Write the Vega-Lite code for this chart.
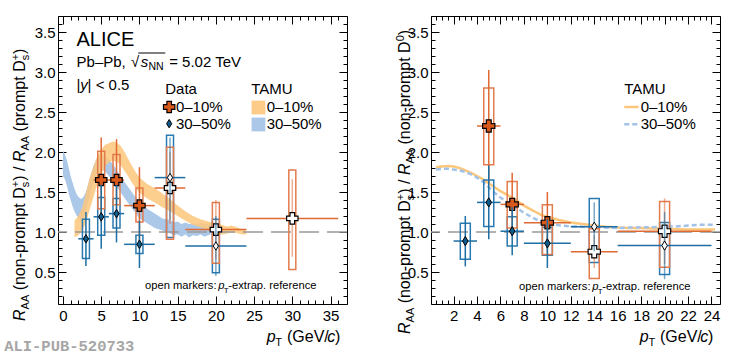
{
"$schema": "https://vega.github.io/schema/vega-lite/v6.json",
"padding": {"left": 4, "top": 15, "right": 5, "bottom": 0},
"background": "white",
"spacing": 84,
"bounds": "flush",
"config": {
  "view": {"stroke": null},
  "font": "Liberation Sans",
  "axis": {"domainColor": "black", "domainWidth": 1, "tickColor": "black", "tickWidth": 1, "labelFont": "Liberation Sans", "labelFontSize": 15, "labelColor": "black", "grid": false, "labelOverlap": false, "labelFlush": false, "labelBound": false, "title": null},
  "text": {"font": "Liberation Sans", "fill": "black"}
},
"datasets": {
  "one": [{}],
  "pts": [
    {"p":"L","c":"0–10%","pt":5,"r":1.65,"xl":4,"xh":6,"sl":1.12,"sh":2.18,"bl":1.29,"bh":2.01,"o":false},
    {"p":"L","c":"0–10%","pt":7,"r":1.65,"xl":6,"xh":8,"sl":1.16,"sh":2.16,"bl":1.34,"bh":1.97,"o":false},
    {"p":"L","c":"0–10%","pt":10,"r":1.33,"xl":8,"xh":12,"sl":0.86,"sh":1.81,"bl":1.125,"bh":1.55,"o":false},
    {"p":"L","c":"0–10%","pt":14,"r":1.55,"xl":12,"xh":16,"sl":1.10,"sh":2.0,"bl":0.91,"bh":2.06,"o":true},
    {"p":"L","c":"0–10%","pt":20,"r":1.03,"xl":16,"xh":24,"sl":0.66,"sh":1.40,"bl":0.61,"bh":1.37,"o":true},
    {"p":"L","c":"0–10%","pt":30,"r":1.17,"xl":24,"xh":36,"sl":0.69,"sh":1.66,"bl":0.53,"bh":1.775,"o":true},
    {"p":"L","c":"30–50%","pt":3,"r":0.915,"xl":2,"xh":4,"sl":0.575,"sh":1.25,"bl":0.67,"bh":1.16,"o":false},
    {"p":"L","c":"30–50%","pt":5,"r":1.19,"xl":4,"xh":6,"sl":0.79,"sh":1.59,"bl":0.96,"bh":1.43,"o":false},
    {"p":"L","c":"30–50%","pt":7,"r":1.23,"xl":6,"xh":8,"sl":0.87,"sh":1.59,"bl":1.05,"bh":1.42,"o":false},
    {"p":"L","c":"30–50%","pt":10,"r":0.846,"xl":8,"xh":12,"sl":0.55,"sh":1.14,"bl":0.73,"bh":0.96,"o":false},
    {"p":"L","c":"30–50%","pt":14,"r":1.68,"xl":12,"xh":16,"sl":1.15,"sh":2.18,"bl":0.93,"bh":2.21,"o":true},
    {"p":"L","c":"30–50%","pt":20,"r":0.825,"xl":16,"xh":24,"sl":0.45,"sh":1.20,"bl":0.49,"bh":1.16,"o":true},
    {"p":"R","c":"0–10%","pt":5,"r":2.325,"xl":4,"xh":6,"sl":1.62,"sh":3.025,"bl":1.84,"bh":2.80,"o":false},
    {"p":"R","c":"0–10%","pt":7,"r":1.345,"xl":6,"xh":8,"sl":0.95,"sh":1.74,"bl":1.05,"bh":1.63,"o":false},
    {"p":"R","c":"0–10%","pt":10,"r":1.116,"xl":8,"xh":12,"sl":0.73,"sh":1.50,"bl":0.72,"bh":1.34,"o":false},
    {"p":"R","c":"0–10%","pt":14,"r":0.754,"xl":12,"xh":16,"sl":0.55,"sh":0.96,"bl":0.42,"bh":1.04,"o":true},
    {"p":"R","c":"0–10%","pt":20,"r":1.01,"xl":16,"xh":24,"sl":0.60,"sh":1.42,"bl":0.56,"bh":1.38,"o":true},
    {"p":"R","c":"30–50%","pt":3,"r":0.887,"xl":2,"xh":4,"sl":0.57,"sh":1.20,"bl":0.66,"bh":1.11,"o":false},
    {"p":"R","c":"30–50%","pt":5,"r":1.37,"xl":4,"xh":6,"sl":0.91,"sh":1.83,"bl":1.07,"bh":1.65,"o":false},
    {"p":"R","c":"30–50%","pt":7,"r":1.01,"xl":6,"xh":8,"sl":0.71,"sh":1.31,"bl":0.825,"bh":1.19,"o":false},
    {"p":"R","c":"30–50%","pt":10,"r":0.858,"xl":8,"xh":12,"sl":0.55,"sh":1.16,"bl":0.71,"bh":1.06,"o":false},
    {"p":"R","c":"30–50%","pt":14,"r":1.066,"xl":12,"xh":16,"sl":0.76,"sh":1.37,"bl":0.62,"bh":1.42,"o":true},
    {"p":"R","c":"30–50%","pt":20,"r":0.83,"xl":16,"xh":24,"sl":0.41,"sh":1.25,"bl":0.47,"bh":1.12,"o":true}
  ],
  "bands": [
    {"c":"0–10%","pt":1.5,"lo":0.93,"hi":1.14},{"c":"0–10%","pt":2.0,"lo":0.96,"hi":1.20},{"c":"0–10%","pt":2.5,"lo":1.01,"hi":1.30},
    {"c":"0–10%","pt":3.0,"lo":1.12,"hi":1.48},{"c":"0–10%","pt":3.5,"lo":1.28,"hi":1.68},{"c":"0–10%","pt":4.0,"lo":1.44,"hi":1.82},
    {"c":"0–10%","pt":4.5,"lo":1.60,"hi":1.95},{"c":"0–10%","pt":5.0,"lo":1.72,"hi":2.03},{"c":"0–10%","pt":5.5,"lo":1.82,"hi":2.09},
    {"c":"0–10%","pt":6.0,"lo":1.87,"hi":2.11},{"c":"0–10%","pt":6.5,"lo":1.89,"hi":2.13},{"c":"0–10%","pt":7.0,"lo":1.88,"hi":2.12},
    {"c":"0–10%","pt":7.5,"lo":1.84,"hi":2.08},{"c":"0–10%","pt":8.0,"lo":1.77,"hi":2.01},{"c":"0–10%","pt":8.5,"lo":1.70,"hi":1.92},
    {"c":"0–10%","pt":9.0,"lo":1.62,"hi":1.83},{"c":"0–10%","pt":9.5,"lo":1.55,"hi":1.75},{"c":"0–10%","pt":10,"lo":1.49,"hi":1.68},
    {"c":"0–10%","pt":11,"lo":1.42,"hi":1.60},{"c":"0–10%","pt":12,"lo":1.37,"hi":1.55},{"c":"0–10%","pt":13,"lo":1.31,"hi":1.48},
    {"c":"0–10%","pt":14,"lo":1.26,"hi":1.41},{"c":"0–10%","pt":15,"lo":1.20,"hi":1.33},{"c":"0–10%","pt":16,"lo":1.14,"hi":1.26},
    {"c":"0–10%","pt":17,"lo":1.09,"hi":1.20},{"c":"0–10%","pt":18,"lo":1.06,"hi":1.16},{"c":"0–10%","pt":19,"lo":1.02,"hi":1.13},
    {"c":"0–10%","pt":20,"lo":0.99,"hi":1.11},{"c":"0–10%","pt":20.5,"lo":0.97,"hi":1.10},{"c":"0–10%","pt":21,"lo":0.97,"hi":1.08},
    {"c":"0–10%","pt":21.5,"lo":0.98,"hi":1.07},{"c":"0–10%","pt":22,"lo":0.99,"hi":1.08},{"c":"0–10%","pt":22.5,"lo":0.99,"hi":1.07},
    {"c":"0–10%","pt":23,"lo":0.98,"hi":1.05},{"c":"0–10%","pt":23.5,"lo":0.97,"hi":1.03},{"c":"0–10%","pt":24,"lo":0.97,"hi":1.02},
    {"c":"30–50%","pt":0.0,"lo":1.70,"hi":2.02},{"c":"30–50%","pt":0.25,"lo":1.66,"hi":1.97},{"c":"30–50%","pt":0.5,"lo":1.58,"hi":1.90},
    {"c":"30–50%","pt":0.75,"lo":1.48,"hi":1.80},{"c":"30–50%","pt":1.0,"lo":1.40,"hi":1.70},{"c":"30–50%","pt":1.25,"lo":1.32,"hi":1.62},
    {"c":"30–50%","pt":1.5,"lo":1.26,"hi":1.54},{"c":"30–50%","pt":1.75,"lo":1.21,"hi":1.48},{"c":"30–50%","pt":2.0,"lo":1.18,"hi":1.44},
    {"c":"30–50%","pt":2.25,"lo":1.16,"hi":1.42},{"c":"30–50%","pt":2.5,"lo":1.16,"hi":1.42},{"c":"30–50%","pt":2.75,"lo":1.19,"hi":1.45},
    {"c":"30–50%","pt":3.0,"lo":1.26,"hi":1.50},{"c":"30–50%","pt":3.5,"lo":1.45,"hi":1.67},{"c":"30–50%","pt":4.0,"lo":1.63,"hi":1.83},
    {"c":"30–50%","pt":4.5,"lo":1.74,"hi":1.93},{"c":"30–50%","pt":5.0,"lo":1.78,"hi":1.97},{"c":"30–50%","pt":5.5,"lo":1.76,"hi":1.95},
    {"c":"30–50%","pt":6.0,"lo":1.70,"hi":1.91},{"c":"30–50%","pt":6.5,"lo":1.63,"hi":1.85},{"c":"30–50%","pt":7.0,"lo":1.57,"hi":1.78},
    {"c":"30–50%","pt":7.5,"lo":1.50,"hi":1.70},{"c":"30–50%","pt":8.0,"lo":1.43,"hi":1.63},{"c":"30–50%","pt":9.0,"lo":1.30,"hi":1.50},
    {"c":"30–50%","pt":10,"lo":1.17,"hi":1.37},{"c":"30–50%","pt":11,"lo":1.11,"hi":1.29},{"c":"30–50%","pt":12,"lo":1.05,"hi":1.23},
    {"c":"30–50%","pt":13,"lo":1.02,"hi":1.17},{"c":"30–50%","pt":14,"lo":0.98,"hi":1.15},{"c":"30–50%","pt":14.5,"lo":0.96,"hi":1.12},
    {"c":"30–50%","pt":15,"lo":0.97,"hi":1.13},{"c":"30–50%","pt":15.5,"lo":0.94,"hi":1.10},{"c":"30–50%","pt":16,"lo":0.97,"hi":1.12},
    {"c":"30–50%","pt":16.5,"lo":0.93,"hi":1.10},{"c":"30–50%","pt":17,"lo":0.96,"hi":1.11},{"c":"30–50%","pt":17.5,"lo":0.95,"hi":1.09},
    {"c":"30–50%","pt":18,"lo":0.97,"hi":1.12},{"c":"30–50%","pt":18.5,"lo":0.94,"hi":1.10},{"c":"30–50%","pt":19,"lo":0.96,"hi":1.11},
    {"c":"30–50%","pt":19.3,"lo":0.97,"hi":1.10}
  ],
  "lines": [
    {"c":"0–10%","pt":0.5,"r":1.81},{"c":"0–10%","pt":1.0,"r":1.82},{"c":"0–10%","pt":1.5,"r":1.825},{"c":"0–10%","pt":2.0,"r":1.82},
    {"c":"0–10%","pt":2.5,"r":1.80},{"c":"0–10%","pt":3.0,"r":1.77},{"c":"0–10%","pt":3.5,"r":1.74},{"c":"0–10%","pt":4.0,"r":1.70},
    {"c":"0–10%","pt":4.5,"r":1.66},{"c":"0–10%","pt":5.0,"r":1.61},{"c":"0–10%","pt":5.5,"r":1.56},{"c":"0–10%","pt":6.0,"r":1.51},
    {"c":"0–10%","pt":6.5,"r":1.47},{"c":"0–10%","pt":7.0,"r":1.43},{"c":"0–10%","pt":7.5,"r":1.38},{"c":"0–10%","pt":8.0,"r":1.33},
    {"c":"0–10%","pt":8.5,"r":1.29},{"c":"0–10%","pt":9.0,"r":1.25},{"c":"0–10%","pt":9.5,"r":1.21},{"c":"0–10%","pt":10,"r":1.19},
    {"c":"0–10%","pt":11,"r":1.15},{"c":"0–10%","pt":12,"r":1.12},{"c":"0–10%","pt":13,"r":1.10},{"c":"0–10%","pt":14,"r":1.08},
    {"c":"0–10%","pt":15,"r":1.065},{"c":"0–10%","pt":16,"r":1.055},{"c":"0–10%","pt":17,"r":1.05},{"c":"0–10%","pt":18,"r":1.05},
    {"c":"0–10%","pt":19,"r":1.045},{"c":"0–10%","pt":20,"r":1.04},{"c":"0–10%","pt":21,"r":1.035},{"c":"0–10%","pt":22,"r":1.03},
    {"c":"0–10%","pt":23,"r":1.03},{"c":"0–10%","pt":24,"r":1.03},{"c":"0–10%","pt":24.3,"r":1.03},
    {"c":"30–50%","pt":0.5,"r":1.78},{"c":"30–50%","pt":1.0,"r":1.79},{"c":"30–50%","pt":1.5,"r":1.79},{"c":"30–50%","pt":2.0,"r":1.78},
    {"c":"30–50%","pt":2.5,"r":1.77},{"c":"30–50%","pt":3.0,"r":1.75},{"c":"30–50%","pt":3.5,"r":1.72},{"c":"30–50%","pt":4.0,"r":1.68},
    {"c":"30–50%","pt":4.5,"r":1.63},{"c":"30–50%","pt":5.0,"r":1.56},{"c":"30–50%","pt":5.5,"r":1.49},{"c":"30–50%","pt":6.0,"r":1.43},
    {"c":"30–50%","pt":6.5,"r":1.38},{"c":"30–50%","pt":7.0,"r":1.34},{"c":"30–50%","pt":7.5,"r":1.29},{"c":"30–50%","pt":8.0,"r":1.24},
    {"c":"30–50%","pt":8.5,"r":1.20},{"c":"30–50%","pt":9.0,"r":1.16},{"c":"30–50%","pt":9.5,"r":1.13},{"c":"30–50%","pt":10,"r":1.11},
    {"c":"30–50%","pt":11,"r":1.085},{"c":"30–50%","pt":12,"r":1.07},{"c":"30–50%","pt":13,"r":1.065},{"c":"30–50%","pt":14,"r":1.06},
    {"c":"30–50%","pt":15,"r":1.055},{"c":"30–50%","pt":16,"r":1.05},{"c":"30–50%","pt":17,"r":1.055},{"c":"30–50%","pt":18,"r":1.06},
    {"c":"30–50%","pt":19,"r":1.06},{"c":"30–50%","pt":20,"r":1.065},{"c":"30–50%","pt":21,"r":1.07},{"c":"30–50%","pt":22,"r":1.08},
    {"c":"30–50%","pt":23,"r":1.09},{"c":"30–50%","pt":24,"r":1.09},{"c":"30–50%","pt":24.3,"r":1.08}
  ]
},
"hconcat": [
{
  "width": 289, "height": 288,
  "resolve": {"axis": {"x": "independent", "y": "independent"}},
  "layer": [
    {"data": {"name": "bands"}, "transform": [{"filter": "datum.c == '30–50%'"}],
     "mark": {"type": "area", "color": "#a3c2e7", "opacity": 0.9},
     "encoding": {"x": {"field": "pt", "type": "quantitative", "scale": {"domain": [0, 36.5], "nice": false, "zero": false}, "axis": null},
                  "y": {"field": "lo", "type": "quantitative", "scale": {"domain": [0.1, 3.7], "nice": false, "zero": false}, "axis": null},
                  "y2": {"field": "hi"}}},
    {"data": {"name": "bands"}, "transform": [{"filter": "datum.c == '0–10%'"}],
     "mark": {"type": "area", "color": "#fdc77b", "opacity": 0.85},
     "encoding": {"x": {"field": "pt", "type": "quantitative", "scale": {"domain": [0, 36.5], "nice": false, "zero": false}, "axis": null},
                  "y": {"field": "lo", "type": "quantitative", "scale": {"domain": [0.1, 3.7], "nice": false, "zero": false}, "axis": null},
                  "y2": {"field": "hi"}}},
    {"data": {"name": "one"}, "mark": {"type": "rule", "color": "#999999", "strokeWidth": 1.5, "strokeDash": [20, 8]},
     "encoding": {"y": {"datum": 1, "type": "quantitative", "scale": {"domain": [0.1, 3.7], "nice": false, "zero": false}, "axis": null}}},
    {"data": {"name": "pts"}, "transform": [{"filter": "datum.p == 'L' && datum.c == '30–50%'"}],
     "mark": {"type": "bar", "size": 7, "filled": false, "color": "#2a79b0", "strokeWidth": 1.5},
     "encoding": {"x": {"field": "pt", "type": "quantitative", "scale": {"domain": [0, 36.5], "nice": false, "zero": false}, "axis": null},
                  "y": {"field": "bl", "type": "quantitative", "scale": {"domain": [0.1, 3.7], "nice": false, "zero": false}, "axis": null},
                  "y2": {"field": "bh"}}},
    {"data": {"name": "pts"}, "transform": [{"filter": "datum.p == 'L' && datum.c == '0–10%'"}],
     "mark": {"type": "bar", "size": 7, "filled": false, "color": "#e27c4e", "strokeWidth": 1.5},
     "encoding": {"x": {"field": "pt", "type": "quantitative", "scale": {"domain": [0, 36.5], "nice": false, "zero": false}, "axis": null},
                  "y": {"field": "bl", "type": "quantitative", "scale": {"domain": [0.1, 3.7], "nice": false, "zero": false}, "axis": null},
                  "y2": {"field": "bh"}}},
    {"data": {"name": "pts"}, "transform": [{"filter": "datum.p == 'L' && datum.c == '0–10%'"}],
     "mark": {"type": "rule", "color": "#e06a33", "strokeWidth": 1.5},
     "encoding": {"x": {"field": "pt", "type": "quantitative", "scale": {"domain": [0, 36.5], "nice": false, "zero": false}, "axis": null},
                  "y": {"field": "sl", "type": "quantitative", "scale": {"domain": [0.1, 3.7], "nice": false, "zero": false}, "axis": null},
                  "y2": {"field": "sh"},
                  "strokeOpacity": {"condition": {"test": "datum.o", "value": 0.55}, "value": 1}}},
    {"data": {"name": "pts"}, "transform": [{"filter": "datum.p == 'L' && datum.c == '0–10%'"}],
     "mark": {"type": "rule", "color": "#e06a33", "strokeWidth": 1.5},
     "encoding": {"x": {"field": "xl", "type": "quantitative", "scale": {"domain": [0, 36.5], "nice": false, "zero": false}, "axis": null},
                  "x2": {"field": "xh"},
                  "y": {"field": "r", "type": "quantitative", "scale": {"domain": [0.1, 3.7], "nice": false, "zero": false}, "axis": null}}},
    {"data": {"name": "pts"}, "transform": [{"filter": "datum.p == 'L' && datum.c == '0–10%'"}],
     "mark": {"type": "point", "shape": "cross", "size": 130, "filled": true, "stroke": "black", "strokeWidth": 1.2, "opacity": 1},
     "encoding": {"x": {"field": "pt", "type": "quantitative", "scale": {"domain": [0, 36.5], "nice": false, "zero": false},
                        "axis": {"orient": "bottom", "values": [0,1,2,3,4,5,6,7,8,9,10,11,12,13,14,15,16,17,18,19,20,21,22,23,24,25,26,27,28,29,30,31,32,33,34,35,36],
                                 "tickSize": {"condition": {"test": "datum.value % 5 === 0", "value": -8}, "value": -4},
                                 "labelFontSize": {"condition": {"test": "datum.value % 5 === 0", "value": 15}, "value": 0},
                                 "labelExpr": "datum.value % 5 === 0 ? format(datum.value, 'd') : ''", "labelPadding": 12}},
                  "y": {"field": "r", "type": "quantitative", "scale": {"domain": [0.1, 3.7], "nice": false, "zero": false},
                        "axis": {"orient": "left", "values": [0.1,0.2,0.3,0.4,0.5,0.6,0.7,0.8,0.9,1.0,1.1,1.2,1.3,1.4,1.5,1.6,1.7,1.8,1.9,2.0,2.1,2.2,2.3,2.4,2.5,2.6,2.7,2.8,2.9,3.0,3.1,3.2,3.3,3.4,3.5,3.6,3.7],
                                 "tickSize": {"condition": {"test": "abs(datum.value*2 - round(datum.value*2)) < 0.001", "value": -8}, "value": -4},
                                 "labelFontSize": {"condition": {"test": "abs(datum.value*2 - round(datum.value*2)) < 0.001", "value": 15}, "value": 0},
                                 "labelExpr": "abs(datum.value*2 - round(datum.value*2)) < 0.001 ? format(datum.value, '.1f') : ''", "labelPadding": 11}},
                  "fill": {"condition": {"test": "datum.o", "value": "white"}, "value": "#d9581c"}}},
    {"data": {"name": "pts"}, "transform": [{"filter": "datum.p == 'L' && datum.c == '30–50%'"}],
     "mark": {"type": "rule", "color": "#1c6ea4", "strokeWidth": 1.5},
     "encoding": {"x": {"field": "pt", "type": "quantitative", "scale": {"domain": [0, 36.5], "nice": false, "zero": false}, "axis": null},
                  "y": {"field": "sl", "type": "quantitative", "scale": {"domain": [0.1, 3.7], "nice": false, "zero": false}, "axis": null},
                  "y2": {"field": "sh"},
                  "strokeOpacity": {"condition": {"test": "datum.o", "value": 0.6}, "value": 1}}},
    {"data": {"name": "pts"}, "transform": [{"filter": "datum.p == 'L' && datum.c == '30–50%'"}],
     "mark": {"type": "rule", "color": "#1c6ea4", "strokeWidth": 1.5},
     "encoding": {"x": {"field": "xl", "type": "quantitative", "scale": {"domain": [0, 36.5], "nice": false, "zero": false}, "axis": null},
                  "x2": {"field": "xh"},
                  "y": {"field": "r", "type": "quantitative", "scale": {"domain": [0.1, 3.7], "nice": false, "zero": false}, "axis": null}}},
    {"data": {"name": "pts"}, "transform": [{"filter": "datum.p == 'L' && datum.c == '30–50%'"}],
     "mark": {"type": "point", "shape": "M0,-1L0.62,0L0,1L-0.62,0Z", "size": 70, "filled": true, "stroke": "black", "strokeWidth": 1, "opacity": 1},
     "encoding": {"x": {"field": "pt", "type": "quantitative", "scale": {"domain": [0, 36.5], "nice": false, "zero": false}, "axis": null},
                  "y": {"field": "r", "type": "quantitative", "scale": {"domain": [0.1, 3.7], "nice": false, "zero": false}, "axis": null},
                  "fill": {"condition": {"test": "datum.o", "value": "white"}, "value": "#0e5a8a"}}},
    {"data": {"name": "pts"}, "transform": [{"filter": "datum.p == 'L'"}],
     "mark": {"type": "point", "opacity": 0},
     "encoding": {"x": {"field": "pt", "type": "quantitative", "scale": {"domain": [0, 36.5], "nice": false, "zero": false},
                        "axis": {"orient": "top", "labels": false, "values": [0,1,2,3,4,5,6,7,8,9,10,11,12,13,14,15,16,17,18,19,20,21,22,23,24,25,26,27,28,29,30,31,32,33,34,35,36],
                                 "tickSize": {"condition": {"test": "datum.value % 5 === 0", "value": -8}, "value": -4}}},
                  "y": {"field": "r", "type": "quantitative", "scale": {"domain": [0.1, 3.7], "nice": false, "zero": false},
                        "axis": {"orient": "right", "labels": false, "values": [0.1,0.2,0.3,0.4,0.5,0.6,0.7,0.8,0.9,1.0,1.1,1.2,1.3,1.4,1.5,1.6,1.7,1.8,1.9,2.0,2.1,2.2,2.3,2.4,2.5,2.6,2.7,2.8,2.9,3.0,3.1,3.2,3.3,3.4,3.5,3.6,3.7],
                                 "tickSize": {"condition": {"test": "abs(datum.value*2 - round(datum.value*2)) < 0.001", "value": -8}, "value": -4}}}}},
    {"data": {"name": "one"}, "mark": {"type": "text", "text": "ALICE", "align": "left", "baseline": "alphabetic", "fontSize": 20},
     "encoding": {"x": {"datum": 1.77, "type": "quantitative", "scale": {"domain": [0, 36.5], "nice": false, "zero": false}, "axis": null}, "y": {"datum": 3.325, "type": "quantitative", "scale": {"domain": [0.1, 3.7], "nice": false, "zero": false}, "axis": null}}},
    {"data": {"name": "one"}, "mark": {"type": "text", "text": "Pb–Pb,", "align": "left", "baseline": "alphabetic", "fontSize": 15},
     "encoding": {"x": {"datum": 1.77, "type": "quantitative", "scale": {"domain": [0, 36.5], "nice": false, "zero": false}, "axis": null}, "y": {"datum": 3.066, "type": "quantitative", "scale": {"domain": [0.1, 3.7], "nice": false, "zero": false}, "axis": null}}},
    {"data": {"name": "one"}, "mark": {"type": "text", "text": "√", "align": "left", "baseline": "alphabetic", "fontSize": 15},
     "encoding": {"x": {"datum": 8.90, "type": "quantitative", "scale": {"domain": [0, 36.5], "nice": false, "zero": false}, "axis": null}, "y": {"datum": 3.066, "type": "quantitative", "scale": {"domain": [0.1, 3.7], "nice": false, "zero": false}, "axis": null}}},
    {"data": {"name": "one"}, "mark": {"type": "rule", "color": "black", "strokeWidth": 1},
     "encoding": {"x": {"datum": 9.85, "type": "quantitative", "scale": {"domain": [0, 36.5], "nice": false, "zero": false}, "axis": null}, "x2": {"datum": 13.38}, "y": {"datum": 3.2375, "type": "quantitative", "scale": {"domain": [0.1, 3.7], "nice": false, "zero": false}, "axis": null}}},
    {"data": {"name": "one"}, "mark": {"type": "text", "text": "s", "align": "left", "baseline": "alphabetic", "fontSize": 15, "fontStyle": "italic"},
     "encoding": {"x": {"datum": 10.16, "type": "quantitative", "scale": {"domain": [0, 36.5], "nice": false, "zero": false}, "axis": null}, "y": {"datum": 3.066, "type": "quantitative", "scale": {"domain": [0.1, 3.7], "nice": false, "zero": false}, "axis": null}}},
    {"data": {"name": "one"}, "mark": {"type": "text", "text": "NN", "align": "left", "baseline": "alphabetic", "fontSize": 10.5},
     "encoding": {"x": {"datum": 11.17, "type": "quantitative", "scale": {"domain": [0, 36.5], "nice": false, "zero": false}, "axis": null}, "y": {"datum": 3.019, "type": "quantitative", "scale": {"domain": [0.1, 3.7], "nice": false, "zero": false}, "axis": null}}},
    {"data": {"name": "one"}, "mark": {"type": "text", "text": "= 5.02 TeV", "align": "left", "baseline": "alphabetic", "fontSize": 15},
     "encoding": {"x": {"datum": 13.89, "type": "quantitative", "scale": {"domain": [0, 36.5], "nice": false, "zero": false}, "axis": null}, "y": {"datum": 3.066, "type": "quantitative", "scale": {"domain": [0.1, 3.7], "nice": false, "zero": false}, "axis": null}}},
    {"data": {"name": "one"}, "mark": {"type": "text", "text": "|", "align": "left", "baseline": "alphabetic", "fontSize": 15},
     "encoding": {"x": {"datum": 1.77, "type": "quantitative", "scale": {"domain": [0, 36.5], "nice": false, "zero": false}, "axis": null}, "y": {"datum": 2.771, "type": "quantitative", "scale": {"domain": [0.1, 3.7], "nice": false, "zero": false}, "axis": null}}},
    {"data": {"name": "one"}, "mark": {"type": "text", "text": "y", "align": "left", "baseline": "alphabetic", "fontSize": 15, "fontStyle": "italic"},
     "encoding": {"x": {"datum": 2.273, "type": "quantitative", "scale": {"domain": [0, 36.5], "nice": false, "zero": false}, "axis": null}, "y": {"datum": 2.771, "type": "quantitative", "scale": {"domain": [0.1, 3.7], "nice": false, "zero": false}, "axis": null}}},
    {"data": {"name": "one"}, "mark": {"type": "text", "text": "| < 0.5", "align": "left", "baseline": "alphabetic", "fontSize": 15},
     "encoding": {"x": {"datum": 3.22, "type": "quantitative", "scale": {"domain": [0, 36.5], "nice": false, "zero": false}, "axis": null}, "y": {"datum": 2.771, "type": "quantitative", "scale": {"domain": [0.1, 3.7], "nice": false, "zero": false}, "axis": null}}},
    {"data": {"name": "one"}, "mark": {"type": "text", "text": "Data", "align": "left", "baseline": "alphabetic", "fontSize": 15},
     "encoding": {"x": {"datum": 13.38, "type": "quantitative", "scale": {"domain": [0, 36.5], "nice": false, "zero": false}, "axis": null}, "y": {"datum": 2.725, "type": "quantitative", "scale": {"domain": [0.1, 3.7], "nice": false, "zero": false}, "axis": null}}},
    {"data": {"name": "one"}, "mark": {"type": "text", "text": "TAMU", "align": "left", "baseline": "alphabetic", "fontSize": 15},
     "encoding": {"x": {"datum": 24.62, "type": "quantitative", "scale": {"domain": [0, 36.5], "nice": false, "zero": false}, "axis": null}, "y": {"datum": 2.725, "type": "quantitative", "scale": {"domain": [0.1, 3.7], "nice": false, "zero": false}, "axis": null}}},
    {"data": {"name": "one"}, "mark": {"type": "point", "shape": "cross", "size": 130, "filled": true, "fill": "#d9581c", "stroke": "black", "strokeWidth": 1.2, "opacity": 1},
     "encoding": {"x": {"datum": 13.89, "type": "quantitative", "scale": {"domain": [0, 36.5], "nice": false, "zero": false}, "axis": null}, "y": {"datum": 2.5625, "type": "quantitative", "scale": {"domain": [0.1, 3.7], "nice": false, "zero": false}, "axis": null}}},
    {"data": {"name": "one"}, "mark": {"type": "point", "shape": "M0,-1L0.62,0L0,1L-0.62,0Z", "size": 70, "filled": true, "fill": "#0e5a8a", "stroke": "black", "strokeWidth": 1, "opacity": 1},
     "encoding": {"x": {"datum": 13.89, "type": "quantitative", "scale": {"domain": [0, 36.5], "nice": false, "zero": false}, "axis": null}, "y": {"datum": 2.354, "type": "quantitative", "scale": {"domain": [0.1, 3.7], "nice": false, "zero": false}, "axis": null}}},
    {"data": {"name": "one"}, "mark": {"type": "text", "text": "0–10%", "align": "left", "baseline": "alphabetic", "fontSize": 15},
     "encoding": {"x": {"datum": 14.77, "type": "quantitative", "scale": {"domain": [0, 36.5], "nice": false, "zero": false}, "axis": null}, "y": {"datum": 2.5, "type": "quantitative", "scale": {"domain": [0.1, 3.7], "nice": false, "zero": false}, "axis": null}}},
    {"data": {"name": "one"}, "mark": {"type": "text", "text": "30–50%", "align": "left", "baseline": "alphabetic", "fontSize": 15},
     "encoding": {"x": {"datum": 14.77, "type": "quantitative", "scale": {"domain": [0, 36.5], "nice": false, "zero": false}, "axis": null}, "y": {"datum": 2.2875, "type": "quantitative", "scale": {"domain": [0.1, 3.7], "nice": false, "zero": false}, "axis": null}}},
    {"data": {"name": "one"}, "mark": {"type": "point", "shape": "square", "size": 190, "filled": true, "color": "#fdc77b", "opacity": 0.9},
     "encoding": {"x": {"datum": 25.57, "type": "quantitative", "scale": {"domain": [0, 36.5], "nice": false, "zero": false}, "axis": null}, "y": {"datum": 2.556, "type": "quantitative", "scale": {"domain": [0.1, 3.7], "nice": false, "zero": false}, "axis": null}}},
    {"data": {"name": "one"}, "mark": {"type": "point", "shape": "square", "size": 190, "filled": true, "color": "#a3c2e7", "opacity": 0.9},
     "encoding": {"x": {"datum": 25.57, "type": "quantitative", "scale": {"domain": [0, 36.5], "nice": false, "zero": false}, "axis": null}, "y": {"datum": 2.344, "type": "quantitative", "scale": {"domain": [0.1, 3.7], "nice": false, "zero": false}, "axis": null}}},
    {"data": {"name": "one"}, "mark": {"type": "text", "text": "0–10%", "align": "left", "baseline": "alphabetic", "fontSize": 15},
     "encoding": {"x": {"datum": 26.64, "type": "quantitative", "scale": {"domain": [0, 36.5], "nice": false, "zero": false}, "axis": null}, "y": {"datum": 2.5, "type": "quantitative", "scale": {"domain": [0.1, 3.7], "nice": false, "zero": false}, "axis": null}}},
    {"data": {"name": "one"}, "mark": {"type": "text", "text": "30–50%", "align": "left", "baseline": "alphabetic", "fontSize": 15},
     "encoding": {"x": {"datum": 26.64, "type": "quantitative", "scale": {"domain": [0, 36.5], "nice": false, "zero": false}, "axis": null}, "y": {"datum": 2.2875, "type": "quantitative", "scale": {"domain": [0.1, 3.7], "nice": false, "zero": false}, "axis": null}}},
    {"data": {"name": "one"}, "mark": {"type": "text", "text": "open markers:", "align": "left", "baseline": "alphabetic", "fontSize": 11.2},
     "encoding": {"x": {"datum": 10.73, "type": "quantitative", "scale": {"domain": [0, 36.5], "nice": false, "zero": false}, "axis": null}, "y": {"datum": 0.284, "type": "quantitative", "scale": {"domain": [0.1, 3.7], "nice": false, "zero": false}, "axis": null}}},
    {"data": {"name": "one"}, "mark": {"type": "text", "text": "p", "align": "left", "baseline": "alphabetic", "fontSize": 11.2, "fontStyle": "italic"},
     "encoding": {"x": {"datum": 20.30, "type": "quantitative", "scale": {"domain": [0, 36.5], "nice": false, "zero": false}, "axis": null}, "y": {"datum": 0.284, "type": "quantitative", "scale": {"domain": [0.1, 3.7], "nice": false, "zero": false}, "axis": null}}},
    {"data": {"name": "one"}, "mark": {"type": "text", "text": "T", "align": "left", "baseline": "alphabetic", "fontSize": 8},
     "encoding": {"x": {"datum": 21.03, "type": "quantitative", "scale": {"domain": [0, 36.5], "nice": false, "zero": false}, "axis": null}, "y": {"datum": 0.2375, "type": "quantitative", "scale": {"domain": [0.1, 3.7], "nice": false, "zero": false}, "axis": null}}},
    {"data": {"name": "one"}, "mark": {"type": "text", "text": "-extrap. reference", "align": "left", "baseline": "alphabetic", "fontSize": 11.2},
     "encoding": {"x": {"datum": 21.62, "type": "quantitative", "scale": {"domain": [0, 36.5], "nice": false, "zero": false}, "axis": null}, "y": {"datum": 0.284, "type": "quantitative", "scale": {"domain": [0.1, 3.7], "nice": false, "zero": false}, "axis": null}}},
    {"data": {"name": "one"}, "mark": {"type": "text", "text": "R", "align": "left", "baseline": "alphabetic", "fontSize": 16, "fontStyle": "italic", "angle": 270},
     "encoding": {"x": {"datum": -4.987, "type": "quantitative", "scale": {"domain": [0, 36.5], "nice": false, "zero": false}, "axis": null}, "y": {"datum": -0.1125, "type": "quantitative", "scale": {"domain": [0.1, 3.7], "nice": false, "zero": false}, "axis": null}}},
    {"data": {"name": "one"}, "mark": {"type": "text", "text": "AA", "align": "left", "baseline": "alphabetic", "fontSize": 11, "angle": 270},
     "encoding": {"x": {"datum": -4.482, "type": "quantitative", "scale": {"domain": [0, 36.5], "nice": false, "zero": false}, "axis": null}, "y": {"datum": 0.0319, "type": "quantitative", "scale": {"domain": [0.1, 3.7], "nice": false, "zero": false}, "axis": null}}},
    {"data": {"name": "one"}, "mark": {"type": "text", "text": "(non-prompt D", "align": "left", "baseline": "alphabetic", "fontSize": 16, "angle": 270},
     "encoding": {"x": {"datum": -4.987, "type": "quantitative", "scale": {"domain": [0, 36.5], "nice": false, "zero": false}, "axis": null}, "y": {"datum": 0.2706, "type": "quantitative", "scale": {"domain": [0.1, 3.7], "nice": false, "zero": false}, "axis": null}}},
    {"data": {"name": "one"}, "mark": {"type": "text", "text": "s", "align": "left", "baseline": "alphabetic", "fontSize": 11, "angle": 270},
     "encoding": {"x": {"datum": -4.482, "type": "quantitative", "scale": {"domain": [0, 36.5], "nice": false, "zero": false}, "axis": null}, "y": {"datum": 1.56, "type": "quantitative", "scale": {"domain": [0.1, 3.7], "nice": false, "zero": false}, "axis": null}}},
    {"data": {"name": "one"}, "mark": {"type": "text", "text": "+", "align": "left", "baseline": "alphabetic", "fontSize": 11, "angle": 270},
     "encoding": {"x": {"datum": -5.745, "type": "quantitative", "scale": {"domain": [0, 36.5], "nice": false, "zero": false}, "axis": null}, "y": {"datum": 1.56, "type": "quantitative", "scale": {"domain": [0.1, 3.7], "nice": false, "zero": false}, "axis": null}}},
    {"data": {"name": "one"}, "mark": {"type": "text", "text": ") /", "align": "left", "baseline": "alphabetic", "fontSize": 16, "angle": 270},
     "encoding": {"x": {"datum": -4.987, "type": "quantitative", "scale": {"domain": [0, 36.5], "nice": false, "zero": false}, "axis": null}, "y": {"datum": 1.64, "type": "quantitative", "scale": {"domain": [0.1, 3.7], "nice": false, "zero": false}, "axis": null}}},
    {"data": {"name": "one"}, "mark": {"type": "text", "text": "R", "align": "left", "baseline": "alphabetic", "fontSize": 16, "fontStyle": "italic", "angle": 270},
     "encoding": {"x": {"datum": -4.987, "type": "quantitative", "scale": {"domain": [0, 36.5], "nice": false, "zero": false}, "axis": null}, "y": {"datum": 1.874, "type": "quantitative", "scale": {"domain": [0.1, 3.7], "nice": false, "zero": false}, "axis": null}}},
    {"data": {"name": "one"}, "mark": {"type": "text", "text": "AA", "align": "left", "baseline": "alphabetic", "fontSize": 11, "angle": 270},
     "encoding": {"x": {"datum": -4.482, "type": "quantitative", "scale": {"domain": [0, 36.5], "nice": false, "zero": false}, "axis": null}, "y": {"datum": 2.0175, "type": "quantitative", "scale": {"domain": [0.1, 3.7], "nice": false, "zero": false}, "axis": null}}},
    {"data": {"name": "one"}, "mark": {"type": "text", "text": "(prompt D", "align": "left", "baseline": "alphabetic", "fontSize": 16, "angle": 270},
     "encoding": {"x": {"datum": -4.987, "type": "quantitative", "scale": {"domain": [0, 36.5], "nice": false, "zero": false}, "axis": null}, "y": {"datum": 2.257, "type": "quantitative", "scale": {"domain": [0.1, 3.7], "nice": false, "zero": false}, "axis": null}}},
    {"data": {"name": "one"}, "mark": {"type": "text", "text": "s", "align": "left", "baseline": "alphabetic", "fontSize": 11, "angle": 270},
     "encoding": {"x": {"datum": -4.482, "type": "quantitative", "scale": {"domain": [0, 36.5], "nice": false, "zero": false}, "axis": null}, "y": {"datum": 3.146, "type": "quantitative", "scale": {"domain": [0.1, 3.7], "nice": false, "zero": false}, "axis": null}}},
    {"data": {"name": "one"}, "mark": {"type": "text", "text": "+", "align": "left", "baseline": "alphabetic", "fontSize": 11, "angle": 270},
     "encoding": {"x": {"datum": -5.745, "type": "quantitative", "scale": {"domain": [0, 36.5], "nice": false, "zero": false}, "axis": null}, "y": {"datum": 3.146, "type": "quantitative", "scale": {"domain": [0.1, 3.7], "nice": false, "zero": false}, "axis": null}}},
    {"data": {"name": "one"}, "mark": {"type": "text", "text": ")", "align": "left", "baseline": "alphabetic", "fontSize": 16, "angle": 270},
     "encoding": {"x": {"datum": -4.987, "type": "quantitative", "scale": {"domain": [0, 36.5], "nice": false, "zero": false}, "axis": null}, "y": {"datum": 3.226, "type": "quantitative", "scale": {"domain": [0.1, 3.7], "nice": false, "zero": false}, "axis": null}}},
    {"data": {"name": "one"}, "mark": {"type": "text", "text": "p", "align": "left", "baseline": "alphabetic", "fontSize": 16, "fontStyle": "italic"},
     "encoding": {"x": {"datum": 26.65, "type": "quantitative", "scale": {"domain": [0, 36.5], "nice": false, "zero": false}, "axis": null}, "y": {"datum": -0.375, "type": "quantitative", "scale": {"domain": [0.1, 3.7], "nice": false, "zero": false}, "axis": null}}},
    {"data": {"name": "one"}, "mark": {"type": "text", "text": "T", "align": "left", "baseline": "alphabetic", "fontSize": 11},
     "encoding": {"x": {"datum": 27.78, "type": "quantitative", "scale": {"domain": [0, 36.5], "nice": false, "zero": false}, "axis": null}, "y": {"datum": -0.425, "type": "quantitative", "scale": {"domain": [0.1, 3.7], "nice": false, "zero": false}, "axis": null}}},
    {"data": {"name": "one"}, "mark": {"type": "text", "text": "(GeV/", "align": "left", "baseline": "alphabetic", "fontSize": 16},
     "encoding": {"x": {"datum": 29.30, "type": "quantitative", "scale": {"domain": [0, 36.5], "nice": false, "zero": false}, "axis": null}, "y": {"datum": -0.375, "type": "quantitative", "scale": {"domain": [0.1, 3.7], "nice": false, "zero": false}, "axis": null}}},
    {"data": {"name": "one"}, "mark": {"type": "text", "text": "c", "align": "left", "baseline": "alphabetic", "fontSize": 16, "fontStyle": "italic"},
     "encoding": {"x": {"datum": 34.58, "type": "quantitative", "scale": {"domain": [0, 36.5], "nice": false, "zero": false}, "axis": null}, "y": {"datum": -0.375, "type": "quantitative", "scale": {"domain": [0.1, 3.7], "nice": false, "zero": false}, "axis": null}}},
    {"data": {"name": "one"}, "mark": {"type": "text", "text": ")", "align": "left", "baseline": "alphabetic", "fontSize": 16},
     "encoding": {"x": {"datum": 35.59, "type": "quantitative", "scale": {"domain": [0, 36.5], "nice": false, "zero": false}, "axis": null}, "y": {"datum": -0.375, "type": "quantitative", "scale": {"domain": [0.1, 3.7], "nice": false, "zero": false}, "axis": null}}},
    {"data": {"name": "one"}, "mark": {"type": "text", "text": "ALI-PUB-520733", "align": "left", "baseline": "alphabetic", "fontSize": 15.5, "font": "Liberation Mono", "fontWeight": "bold", "fill": "#a6a6a6"},
     "encoding": {"x": {"datum": -7.70, "type": "quantitative", "scale": {"domain": [0, 36.5], "nice": false, "zero": false}, "axis": null}, "y": {"datum": -0.4875, "type": "quantitative", "scale": {"domain": [0.1, 3.7], "nice": false, "zero": false}, "axis": null}}}
  ]
},
{
  "width": 289, "height": 288,
  "resolve": {"axis": {"x": "independent", "y": "independent"}},
  "layer": [
    {"data": {"name": "lines"}, "transform": [{"filter": "datum.c == '0–10%'"}],
     "mark": {"type": "line", "color": "#fdc77b", "strokeWidth": 2.5},
     "encoding": {"x": {"field": "pt", "type": "quantitative", "scale": {"domain": [0.5, 24.3], "nice": false, "zero": false}, "axis": null},
                  "y": {"field": "r", "type": "quantitative", "scale": {"domain": [0.1, 3.7], "nice": false, "zero": false}, "axis": null}}},
    {"data": {"name": "lines"}, "transform": [{"filter": "datum.c == '30–50%'"}],
     "mark": {"type": "line", "color": "#a3c2e7", "strokeWidth": 2.5, "strokeDash": [5, 3]},
     "encoding": {"x": {"field": "pt", "type": "quantitative", "scale": {"domain": [0.5, 24.3], "nice": false, "zero": false}, "axis": null},
                  "y": {"field": "r", "type": "quantitative", "scale": {"domain": [0.1, 3.7], "nice": false, "zero": false}, "axis": null}}},
    {"data": {"name": "one"}, "mark": {"type": "rule", "color": "#999999", "strokeWidth": 1.5, "strokeDash": [20, 8]},
     "encoding": {"y": {"datum": 1, "type": "quantitative", "scale": {"domain": [0.1, 3.7], "nice": false, "zero": false}, "axis": null}}},
    {"data": {"name": "pts"}, "transform": [{"filter": "datum.p == 'R' && datum.c == '30–50%'"}],
     "mark": {"type": "bar", "size": 10, "filled": false, "color": "#2a79b0", "strokeWidth": 1.5},
     "encoding": {"x": {"field": "pt", "type": "quantitative", "scale": {"domain": [0.5, 24.3], "nice": false, "zero": false}, "axis": null},
                  "y": {"field": "bl", "type": "quantitative", "scale": {"domain": [0.1, 3.7], "nice": false, "zero": false}, "axis": null},
                  "y2": {"field": "bh"}}},
    {"data": {"name": "pts"}, "transform": [{"filter": "datum.p == 'R' && datum.c == '0–10%'"}],
     "mark": {"type": "bar", "size": 10, "filled": false, "color": "#e27c4e", "strokeWidth": 1.5},
     "encoding": {"x": {"field": "pt", "type": "quantitative", "scale": {"domain": [0.5, 24.3], "nice": false, "zero": false}, "axis": null},
                  "y": {"field": "bl", "type": "quantitative", "scale": {"domain": [0.1, 3.7], "nice": false, "zero": false}, "axis": null},
                  "y2": {"field": "bh"}}},
    {"data": {"name": "pts"}, "transform": [{"filter": "datum.p == 'R' && datum.c == '0–10%'"}],
     "mark": {"type": "rule", "color": "#e06a33", "strokeWidth": 1.5},
     "encoding": {"x": {"field": "pt", "type": "quantitative", "scale": {"domain": [0.5, 24.3], "nice": false, "zero": false}, "axis": null},
                  "y": {"field": "sl", "type": "quantitative", "scale": {"domain": [0.1, 3.7], "nice": false, "zero": false}, "axis": null},
                  "y2": {"field": "sh"},
                  "strokeOpacity": {"condition": {"test": "datum.o", "value": 0.55}, "value": 1}}},
    {"data": {"name": "pts"}, "transform": [{"filter": "datum.p == 'R' && datum.c == '0–10%'"}],
     "mark": {"type": "rule", "color": "#e06a33", "strokeWidth": 1.5},
     "encoding": {"x": {"field": "xl", "type": "quantitative", "scale": {"domain": [0.5, 24.3], "nice": false, "zero": false}, "axis": null},
                  "x2": {"field": "xh"},
                  "y": {"field": "r", "type": "quantitative", "scale": {"domain": [0.1, 3.7], "nice": false, "zero": false}, "axis": null}}},
    {"data": {"name": "pts"}, "transform": [{"filter": "datum.p == 'R' && datum.c == '0–10%'"}],
     "mark": {"type": "point", "shape": "cross", "size": 150, "filled": true, "stroke": "black", "strokeWidth": 1.2, "opacity": 1},
     "encoding": {"x": {"field": "pt", "type": "quantitative", "scale": {"domain": [0.5, 24.3], "nice": false, "zero": false},
                        "axis": {"orient": "bottom", "values": [0.5,1,1.5,2,2.5,3,3.5,4,4.5,5,5.5,6,6.5,7,7.5,8,8.5,9,9.5,10,10.5,11,11.5,12,12.5,13,13.5,14,14.5,15,15.5,16,16.5,17,17.5,18,18.5,19,19.5,20,20.5,21,21.5,22,22.5,23,23.5,24],
                                 "tickSize": {"condition": {"test": "datum.value % 2 === 0", "value": -8}, "value": -4},
                                 "labelFontSize": {"condition": {"test": "datum.value % 2 === 0", "value": 15}, "value": 0},
                                 "labelExpr": "datum.value % 2 === 0 ? format(datum.value, 'd') : ''", "labelPadding": 12}},
                  "y": {"field": "r", "type": "quantitative", "scale": {"domain": [0.1, 3.7], "nice": false, "zero": false},
                        "axis": {"orient": "left", "values": [0.1,0.2,0.3,0.4,0.5,0.6,0.7,0.8,0.9,1.0,1.1,1.2,1.3,1.4,1.5,1.6,1.7,1.8,1.9,2.0,2.1,2.2,2.3,2.4,2.5,2.6,2.7,2.8,2.9,3.0,3.1,3.2,3.3,3.4,3.5,3.6,3.7],
                                 "tickSize": {"condition": {"test": "abs(datum.value*2 - round(datum.value*2)) < 0.001", "value": -8}, "value": -4},
                                 "labelFontSize": {"condition": {"test": "abs(datum.value*2 - round(datum.value*2)) < 0.001", "value": 15}, "value": 0},
                                 "labelExpr": "abs(datum.value*2 - round(datum.value*2)) < 0.001 ? format(datum.value, '.1f') : ''", "labelPadding": 11}},
                  "fill": {"condition": {"test": "datum.o", "value": "white"}, "value": "#d9581c"}}},
    {"data": {"name": "pts"}, "transform": [{"filter": "datum.p == 'R' && datum.c == '30–50%'"}],
     "mark": {"type": "rule", "color": "#1c6ea4", "strokeWidth": 1.5},
     "encoding": {"x": {"field": "pt", "type": "quantitative", "scale": {"domain": [0.5, 24.3], "nice": false, "zero": false}, "axis": null},
                  "y": {"field": "sl", "type": "quantitative", "scale": {"domain": [0.1, 3.7], "nice": false, "zero": false}, "axis": null},
                  "y2": {"field": "sh"},
                  "strokeOpacity": {"condition": {"test": "datum.o", "value": 0.6}, "value": 1}}},
    {"data": {"name": "pts"}, "transform": [{"filter": "datum.p == 'R' && datum.c == '30–50%'"}],
     "mark": {"type": "rule", "color": "#1c6ea4", "strokeWidth": 1.5},
     "encoding": {"x": {"field": "xl", "type": "quantitative", "scale": {"domain": [0.5, 24.3], "nice": false, "zero": false}, "axis": null},
                  "x2": {"field": "xh"},
                  "y": {"field": "r", "type": "quantitative", "scale": {"domain": [0.1, 3.7], "nice": false, "zero": false}, "axis": null}}},
    {"data": {"name": "pts"}, "transform": [{"filter": "datum.p == 'R' && datum.c == '30–50%'"}],
     "mark": {"type": "point", "shape": "M0,-1L0.6,0L0,1L-0.6,0Z", "size": 85, "filled": true, "stroke": "black", "strokeWidth": 1, "opacity": 1},
     "encoding": {"x": {"field": "pt", "type": "quantitative", "scale": {"domain": [0.5, 24.3], "nice": false, "zero": false}, "axis": null},
                  "y": {"field": "r", "type": "quantitative", "scale": {"domain": [0.1, 3.7], "nice": false, "zero": false}, "axis": null},
                  "fill": {"condition": {"test": "datum.o", "value": "white"}, "value": "#0e5a8a"}}},
    {"data": {"name": "pts"}, "transform": [{"filter": "datum.p == 'R'"}],
     "mark": {"type": "point", "opacity": 0},
     "encoding": {"x": {"field": "pt", "type": "quantitative", "scale": {"domain": [0.5, 24.3], "nice": false, "zero": false},
                        "axis": {"orient": "top", "labels": false, "values": [0.5,1,1.5,2,2.5,3,3.5,4,4.5,5,5.5,6,6.5,7,7.5,8,8.5,9,9.5,10,10.5,11,11.5,12,12.5,13,13.5,14,14.5,15,15.5,16,16.5,17,17.5,18,18.5,19,19.5,20,20.5,21,21.5,22,22.5,23,23.5,24],
                                 "tickSize": {"condition": {"test": "datum.value % 2 === 0", "value": -8}, "value": -4}}},
                  "y": {"field": "r", "type": "quantitative", "scale": {"domain": [0.1, 3.7], "nice": false, "zero": false},
                        "axis": {"orient": "right", "labels": false, "values": [0.1,0.2,0.3,0.4,0.5,0.6,0.7,0.8,0.9,1.0,1.1,1.2,1.3,1.4,1.5,1.6,1.7,1.8,1.9,2.0,2.1,2.2,2.3,2.4,2.5,2.6,2.7,2.8,2.9,3.0,3.1,3.2,3.3,3.4,3.5,3.6,3.7],
                                 "tickSize": {"condition": {"test": "abs(datum.value*2 - round(datum.value*2)) < 0.001", "value": -8}, "value": -4}}}}},
    {"data": {"name": "one"}, "mark": {"type": "text", "text": "TAMU", "align": "left", "baseline": "alphabetic", "fontSize": 15},
     "encoding": {"x": {"datum": 16.56, "type": "quantitative", "scale": {"domain": [0.5, 24.3], "nice": false, "zero": false}, "axis": null}, "y": {"datum": 2.725, "type": "quantitative", "scale": {"domain": [0.1, 3.7], "nice": false, "zero": false}, "axis": null}}},
    {"data": {"name": "one"}, "mark": {"type": "rule", "color": "#fdc77b", "strokeWidth": 2.5},
     "encoding": {"x": {"datum": 16.56, "type": "quantitative", "scale": {"domain": [0.5, 24.3], "nice": false, "zero": false}, "axis": null}, "x2": {"datum": 17.79}, "y": {"datum": 2.5625, "type": "quantitative", "scale": {"domain": [0.1, 3.7], "nice": false, "zero": false}, "axis": null}}},
    {"data": {"name": "one"}, "mark": {"type": "rule", "color": "#a3c2e7", "strokeWidth": 2.5, "strokeDash": [5, 3]},
     "encoding": {"x": {"datum": 16.56, "type": "quantitative", "scale": {"domain": [0.5, 24.3], "nice": false, "zero": false}, "axis": null}, "x2": {"datum": 17.79}, "y": {"datum": 2.346, "type": "quantitative", "scale": {"domain": [0.1, 3.7], "nice": false, "zero": false}, "axis": null}}},
    {"data": {"name": "one"}, "mark": {"type": "text", "text": "0–10%", "align": "left", "baseline": "alphabetic", "fontSize": 15},
     "encoding": {"x": {"datum": 17.96, "type": "quantitative", "scale": {"domain": [0.5, 24.3], "nice": false, "zero": false}, "axis": null}, "y": {"datum": 2.5, "type": "quantitative", "scale": {"domain": [0.1, 3.7], "nice": false, "zero": false}, "axis": null}}},
    {"data": {"name": "one"}, "mark": {"type": "text", "text": "30–50%", "align": "left", "baseline": "alphabetic", "fontSize": 15},
     "encoding": {"x": {"datum": 17.96, "type": "quantitative", "scale": {"domain": [0.5, 24.3], "nice": false, "zero": false}, "axis": null}, "y": {"datum": 2.2875, "type": "quantitative", "scale": {"domain": [0.1, 3.7], "nice": false, "zero": false}, "axis": null}}},
    {"data": {"name": "one"}, "mark": {"type": "text", "text": "open markers:", "align": "left", "baseline": "alphabetic", "fontSize": 11.2},
     "encoding": {"x": {"datum": 7.58, "type": "quantitative", "scale": {"domain": [0.5, 24.3], "nice": false, "zero": false}, "axis": null}, "y": {"datum": 0.275, "type": "quantitative", "scale": {"domain": [0.1, 3.7], "nice": false, "zero": false}, "axis": null}}},
    {"data": {"name": "one"}, "mark": {"type": "text", "text": "p", "align": "left", "baseline": "alphabetic", "fontSize": 11.2, "fontStyle": "italic"},
     "encoding": {"x": {"datum": 13.82, "type": "quantitative", "scale": {"domain": [0.5, 24.3], "nice": false, "zero": false}, "axis": null}, "y": {"datum": 0.275, "type": "quantitative", "scale": {"domain": [0.1, 3.7], "nice": false, "zero": false}, "axis": null}}},
    {"data": {"name": "one"}, "mark": {"type": "text", "text": "T", "align": "left", "baseline": "alphabetic", "fontSize": 8},
     "encoding": {"x": {"datum": 14.30, "type": "quantitative", "scale": {"domain": [0.5, 24.3], "nice": false, "zero": false}, "axis": null}, "y": {"datum": 0.225, "type": "quantitative", "scale": {"domain": [0.1, 3.7], "nice": false, "zero": false}, "axis": null}}},
    {"data": {"name": "one"}, "mark": {"type": "text", "text": "-extrap. reference", "align": "left", "baseline": "alphabetic", "fontSize": 11.2},
     "encoding": {"x": {"datum": 14.68, "type": "quantitative", "scale": {"domain": [0.5, 24.3], "nice": false, "zero": false}, "axis": null}, "y": {"datum": 0.275, "type": "quantitative", "scale": {"domain": [0.1, 3.7], "nice": false, "zero": false}, "axis": null}}},
    {"data": {"name": "one"}, "mark": {"type": "text", "text": "R", "align": "left", "baseline": "alphabetic", "fontSize": 16, "fontStyle": "italic", "angle": 270},
     "encoding": {"x": {"datum": -1.7235, "type": "quantitative", "scale": {"domain": [0.5, 24.3], "nice": false, "zero": false}, "axis": null}, "y": {"datum": -0.275, "type": "quantitative", "scale": {"domain": [0.1, 3.7], "nice": false, "zero": false}, "axis": null}}},
    {"data": {"name": "one"}, "mark": {"type": "text", "text": "AA", "align": "left", "baseline": "alphabetic", "fontSize": 11, "angle": 270},
     "encoding": {"x": {"datum": -1.394, "type": "quantitative", "scale": {"domain": [0.5, 24.3], "nice": false, "zero": false}, "axis": null}, "y": {"datum": -0.1306, "type": "quantitative", "scale": {"domain": [0.1, 3.7], "nice": false, "zero": false}, "axis": null}}},
    {"data": {"name": "one"}, "mark": {"type": "text", "text": "(non-prompt D", "align": "left", "baseline": "alphabetic", "fontSize": 16, "angle": 270},
     "encoding": {"x": {"datum": -1.7235, "type": "quantitative", "scale": {"domain": [0.5, 24.3], "nice": false, "zero": false}, "axis": null}, "y": {"datum": 0.108, "type": "quantitative", "scale": {"domain": [0.1, 3.7], "nice": false, "zero": false}, "axis": null}}},
    {"data": {"name": "one"}, "mark": {"type": "text", "text": "s", "align": "left", "baseline": "alphabetic", "fontSize": 11, "angle": 270},
     "encoding": {"x": {"datum": -1.394, "type": "quantitative", "scale": {"domain": [0.5, 24.3], "nice": false, "zero": false}, "axis": null}, "y": {"datum": 1.3975, "type": "quantitative", "scale": {"domain": [0.1, 3.7], "nice": false, "zero": false}, "axis": null}}},
    {"data": {"name": "one"}, "mark": {"type": "text", "text": "+", "align": "left", "baseline": "alphabetic", "fontSize": 11, "angle": 270},
     "encoding": {"x": {"datum": -2.218, "type": "quantitative", "scale": {"domain": [0.5, 24.3], "nice": false, "zero": false}, "axis": null}, "y": {"datum": 1.3975, "type": "quantitative", "scale": {"domain": [0.1, 3.7], "nice": false, "zero": false}, "axis": null}}},
    {"data": {"name": "one"}, "mark": {"type": "text", "text": ") /", "align": "left", "baseline": "alphabetic", "fontSize": 16, "angle": 270},
     "encoding": {"x": {"datum": -1.7235, "type": "quantitative", "scale": {"domain": [0.5, 24.3], "nice": false, "zero": false}, "axis": null}, "y": {"datum": 1.4775, "type": "quantitative", "scale": {"domain": [0.1, 3.7], "nice": false, "zero": false}, "axis": null}}},
    {"data": {"name": "one"}, "mark": {"type": "text", "text": "R", "align": "left", "baseline": "alphabetic", "fontSize": 16, "fontStyle": "italic", "angle": 270},
     "encoding": {"x": {"datum": -1.7235, "type": "quantitative", "scale": {"domain": [0.5, 24.3], "nice": false, "zero": false}, "axis": null}, "y": {"datum": 1.711, "type": "quantitative", "scale": {"domain": [0.1, 3.7], "nice": false, "zero": false}, "axis": null}}},
    {"data": {"name": "one"}, "mark": {"type": "text", "text": "AA", "align": "left", "baseline": "alphabetic", "fontSize": 11, "angle": 270},
     "encoding": {"x": {"datum": -1.394, "type": "quantitative", "scale": {"domain": [0.5, 24.3], "nice": false, "zero": false}, "axis": null}, "y": {"datum": 1.855, "type": "quantitative", "scale": {"domain": [0.1, 3.7], "nice": false, "zero": false}, "axis": null}}},
    {"data": {"name": "one"}, "mark": {"type": "text", "text": "(non-prompt D", "align": "left", "baseline": "alphabetic", "fontSize": 16, "angle": 270},
     "encoding": {"x": {"datum": -1.7235, "type": "quantitative", "scale": {"domain": [0.5, 24.3], "nice": false, "zero": false}, "axis": null}, "y": {"datum": 2.094, "type": "quantitative", "scale": {"domain": [0.1, 3.7], "nice": false, "zero": false}, "axis": null}}},
    {"data": {"name": "one"}, "mark": {"type": "text", "text": "0", "align": "left", "baseline": "alphabetic", "fontSize": 11, "angle": 270},
     "encoding": {"x": {"datum": -2.218, "type": "quantitative", "scale": {"domain": [0.5, 24.3], "nice": false, "zero": false}, "axis": null}, "y": {"datum": 3.384, "type": "quantitative", "scale": {"domain": [0.1, 3.7], "nice": false, "zero": false}, "axis": null}}},
    {"data": {"name": "one"}, "mark": {"type": "text", "text": ")", "align": "left", "baseline": "alphabetic", "fontSize": 16, "angle": 270},
     "encoding": {"x": {"datum": -1.7235, "type": "quantitative", "scale": {"domain": [0.5, 24.3], "nice": false, "zero": false}, "axis": null}, "y": {"datum": 3.46, "type": "quantitative", "scale": {"domain": [0.1, 3.7], "nice": false, "zero": false}, "axis": null}}},
    {"data": {"name": "one"}, "mark": {"type": "text", "text": "p", "align": "left", "baseline": "alphabetic", "fontSize": 16, "fontStyle": "italic"},
     "encoding": {"x": {"datum": 17.876, "type": "quantitative", "scale": {"domain": [0.5, 24.3], "nice": false, "zero": false}, "axis": null}, "y": {"datum": -0.375, "type": "quantitative", "scale": {"domain": [0.1, 3.7], "nice": false, "zero": false}, "axis": null}}},
    {"data": {"name": "one"}, "mark": {"type": "text", "text": "T", "align": "left", "baseline": "alphabetic", "fontSize": 11},
     "encoding": {"x": {"datum": 18.617, "type": "quantitative", "scale": {"domain": [0.5, 24.3], "nice": false, "zero": false}, "axis": null}, "y": {"datum": -0.425, "type": "quantitative", "scale": {"domain": [0.1, 3.7], "nice": false, "zero": false}, "axis": null}}},
    {"data": {"name": "one"}, "mark": {"type": "text", "text": "(GeV/", "align": "left", "baseline": "alphabetic", "fontSize": 16},
     "encoding": {"x": {"datum": 19.606, "type": "quantitative", "scale": {"domain": [0.5, 24.3], "nice": false, "zero": false}, "axis": null}, "y": {"datum": -0.375, "type": "quantitative", "scale": {"domain": [0.1, 3.7], "nice": false, "zero": false}, "axis": null}}},
    {"data": {"name": "one"}, "mark": {"type": "text", "text": "c", "align": "left", "baseline": "alphabetic", "fontSize": 16, "fontStyle": "italic"},
     "encoding": {"x": {"datum": 23.048, "type": "quantitative", "scale": {"domain": [0.5, 24.3], "nice": false, "zero": false}, "axis": null}, "y": {"datum": -0.375, "type": "quantitative", "scale": {"domain": [0.1, 3.7], "nice": false, "zero": false}, "axis": null}}},
    {"data": {"name": "one"}, "mark": {"type": "text", "text": ")", "align": "left", "baseline": "alphabetic", "fontSize": 16},
     "encoding": {"x": {"datum": 23.707, "type": "quantitative", "scale": {"domain": [0.5, 24.3], "nice": false, "zero": false}, "axis": null}, "y": {"datum": -0.375, "type": "quantitative", "scale": {"domain": [0.1, 3.7], "nice": false, "zero": false}, "axis": null}}}
  ]
}
]
}
